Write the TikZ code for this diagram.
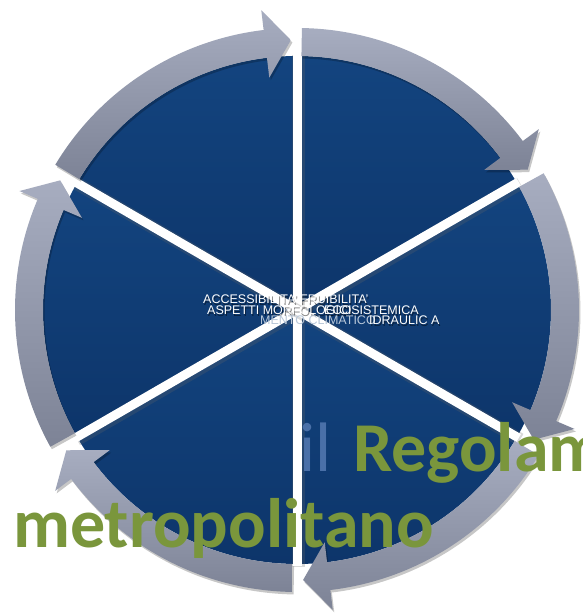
\documentclass[tikz,border=0pt]{standalone}
\usepackage{fontspec}
\setmainfont{Liberation Sans}
\newfontfamily\titlefont{Carlito}
\usetikzlibrary{calc}
\definecolor{wedgetop}{HTML}{13447F}
\definecolor{wedgebot}{HTML}{0D356A}
\definecolor{arrtop}{HTML}{A7ADC0}
\definecolor{arrbot}{HTML}{7D8396}
\definecolor{titlegreen}{HTML}{7A963C}
\definecolor{ilblue}{HTML}{4A70A8}
\newcommand{\arrowpath}[2]{(#1:254pt) -- (#1:282pt) arc[start angle=#1,end angle=#2+5.5,radius=282pt] -- (#2+5.5:302pt) -- (#2:270pt) -- (#2+5.5:234pt) -- (#2+5.5:254pt) arc[start angle=#2+5.5,end angle=#1,radius=254pt] -- cycle}
\newcommand{\wedgepath}[1]{(0,0) -- (#1-30:254pt) arc[start angle=#1-30,end angle=#1+30,radius=254pt] -- cycle}
\tikzset{
  wedgestyle/.style={top color=wedgetop,bottom color=wedgebot,draw=none},
  arrowstyle/.style={top color=arrtop,bottom color=arrbot,draw=none},
  shadowstyle/.style={fill=black,opacity=0.22,draw=none},
  gapshade/.style={line width=13pt,draw=black!60,opacity=0.25},
  gapline/.style={line width=9pt,draw=white},
  labelstyle/.style={font=\fontsize{12.5}{13}\selectfont,text=white,inner sep=0pt,anchor=base west},
  labelshadow/.style={font=\fontsize{12.5}{13}\selectfont,text=black,opacity=0.45,inner sep=0pt,anchor=base west},
  bigtitle/.style={font=\titlefont\bfseries\fontsize{70}{72}\selectfont,inner sep=0pt,anchor=base west},
  lighttitle/.style={font=\titlefont\fontsize{70}{72}\selectfont,inner sep=0pt,anchor=base west}
}
\begin{document}
\begin{tikzpicture}[x=1pt,y=1pt]
\useasboundingbox (0,0) rectangle (583,613);
\fill[white] (0,0) rectangle (583,613);
\begin{scope}[shift={(297pt,303pt)}]
  % wedges
  \foreach \a/\n in {0/w0,60/w1,120/w2,180/w3,240/w4,300/w5}{
    \path[wedgestyle] \wedgepath{\a};
  }
  \coordinate (c) at (0,0);
  \foreach \g/\n in {30/ga,90/gb,150/gc}{
    \coordinate (\n1) at (\g:256pt);
    \coordinate (\n2) at (\g+180:256pt);
    \draw[gapshade] ([xshift=1.5pt,yshift=-1.5pt]\n1) -- ([xshift=1.5pt,yshift=-1.5pt]\n2);
    \draw[gapline] (\n1) -- (\n2);
  }
  % arrows
  \foreach \t/\h in {89/31.3, 29/-28.7, -31/-88.7, -91/-148.7, -151/-208.7, -211/-268.7}{
    \begin{scope}[shift={(1.5pt,-2.5pt)}]
      \path[shadowstyle] \arrowpath{\t}{\h};
    \end{scope}
    \path[arrowstyle] \arrowpath{\t}{\h};
  }
\end{scope}
% centre labels (overlapping)
\node[labelshadow] (s1) at (204,307.5) {ACCESSIBILITA'};
\node[labelshadow] (s2) at (301,307.5) {FRUIBILITA'};
\node[labelshadow] (s3) at (208,296.5) {ASPETTI MORFOLOGICI};
\node[labelshadow] (s4) at (325,296.5) {ECOSISTEMICA};
\node[labelshadow] (s6) at (370,286.5) {IDRAULIC A};
\node[labelstyle] (l1) at (203,309) {ACCESSIBILITA'};
\node[labelstyle] (l2) at (300,309) {FRUIBILITA'};
\node[labelstyle] (l3) at (207,298) {ASPETTI MORFOLOGICI};
\node[labelstyle] (l4) at (324,298) {ECOSISTEMICA};
\node[labelstyle,text=white!70!wedgetop] (l5) at (260,288) {MENTO CLIMATICO};
\node[labelstyle] (l6) at (369,288) {IDRAULIC A};
% title text
\node[lighttitle,text=ilblue] (il) at (299,141) {il};
\node[bigtitle,text=titlegreen] (reg) at (353,141) {Regolam};
\node[bigtitle,text=titlegreen] (metro) at (13,65) {metropolitano};
\end{tikzpicture}
\end{document}
